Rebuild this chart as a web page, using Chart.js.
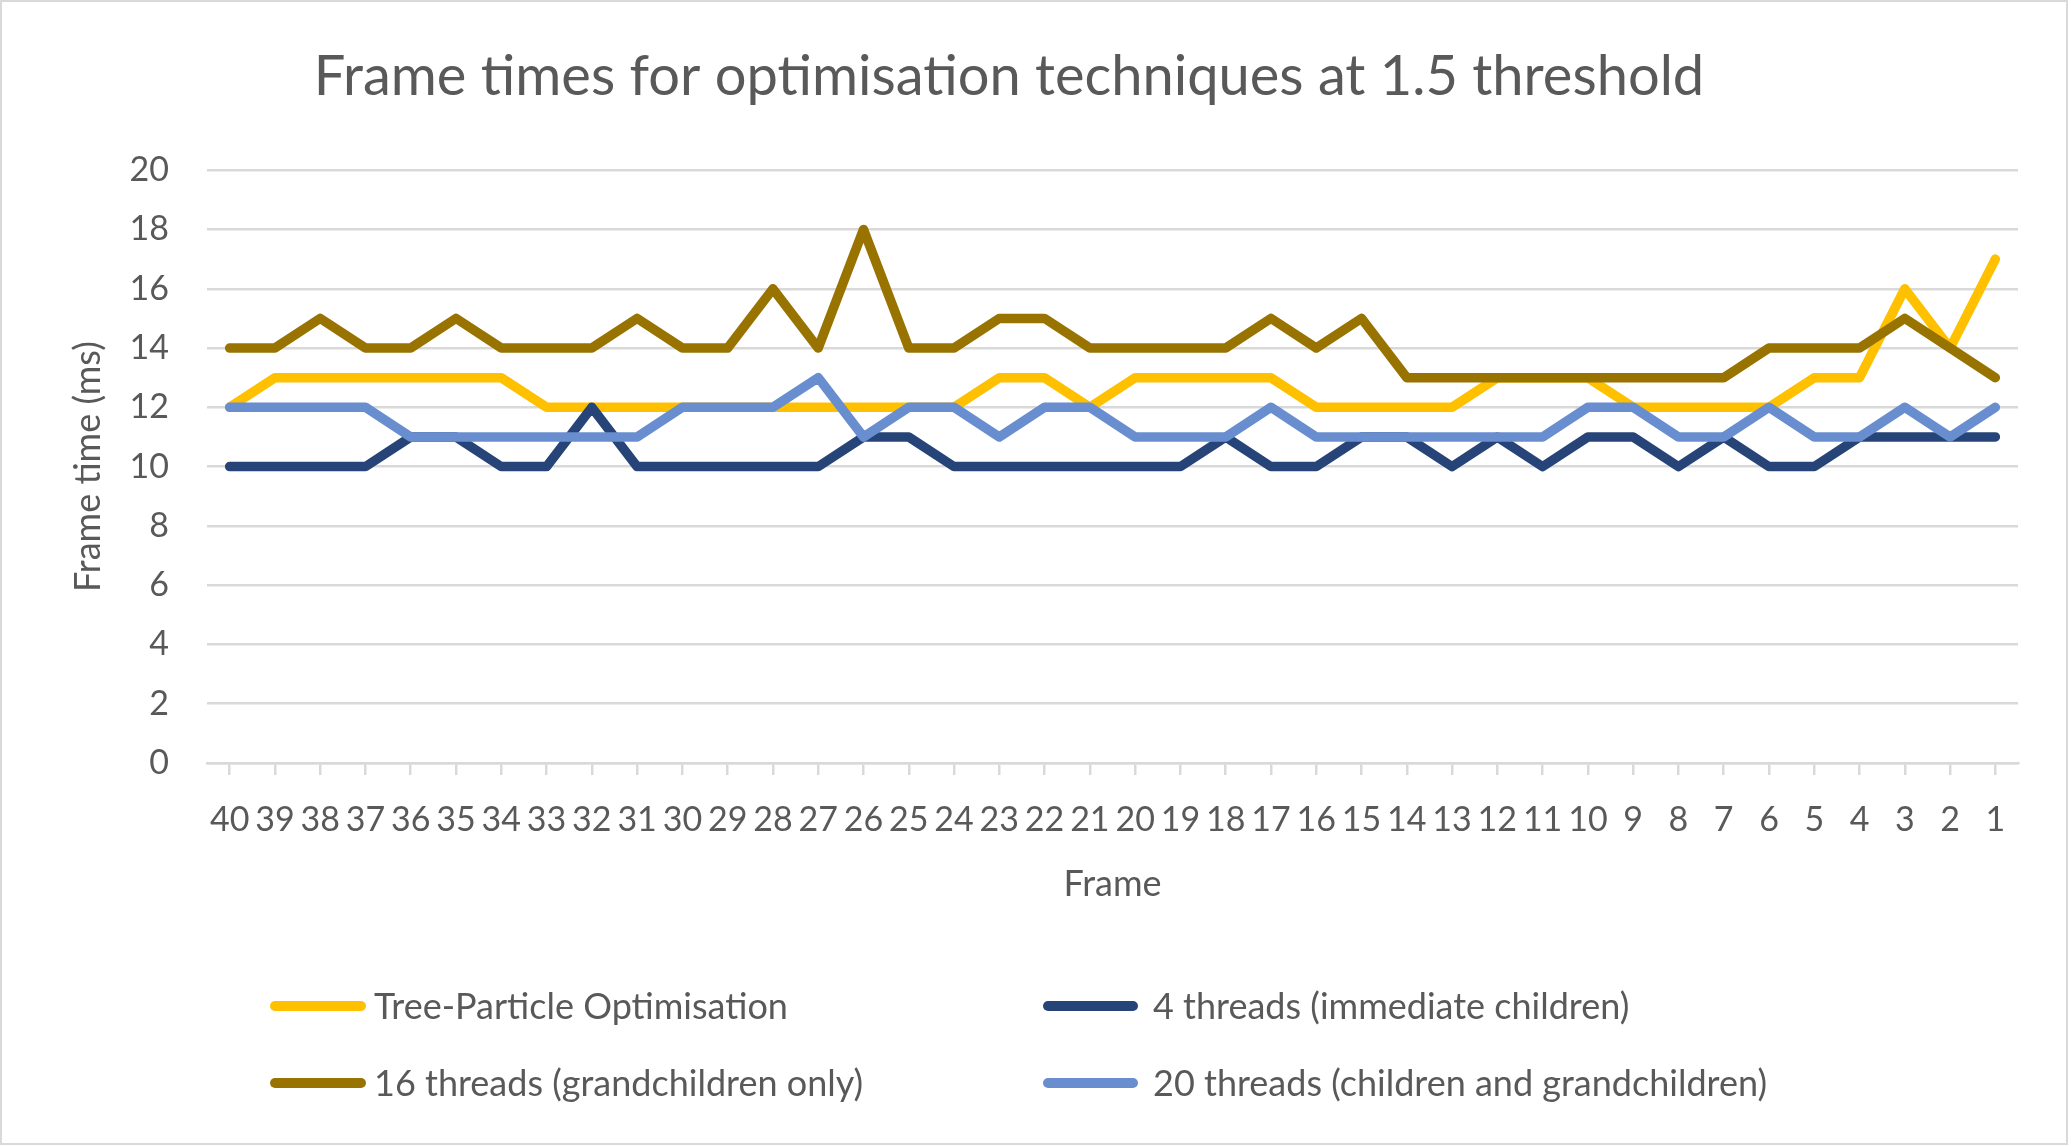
<!DOCTYPE html>
<html>
<head>
<meta charset="utf-8">
<script src="https://cdn.jsdelivr.net/npm/chart.js@4.4.0/dist/chart.umd.min.js"></script>
<style>
  html, body { margin: 0; padding: 0; background: #fff; }
  #chart { display: block; }
</style>
</head>
<body>
<canvas id="chart" width="2071" height="1146"></canvas>
<script>
// frames run backwards, 40 down to 1
const frames = ['40','39','38','37','36','35','34','33','32','31','30','29','28','27','26','25','24','23','22','21',
                '20','19','18','17','16','15','14','13','12','11','10','9','8','7','6','5','4','3','2','1'];

const treeParticle = [12,13,13,13,13,13,13,12,12,12,12, 12,12,12,12,12,12,13,13,12,13,13,
                      13,13,12,12,12,12,13,13,13,12,12, 12,12,13,13,16,14,17];
const threads4     = [10,10,10,10,11,11,10,10,12,10,10, 10,10,10,11,11,10,10,10,10,10,10,
                      11,10,10,11,11,10,11,10,11,11,10, 11,10,10,11,11,11,11];
const threads16    = [14,14,15,14,14,15,14,14,14,15,14, 14,16,14,18,14,14,15,15,14,14,14,
                      14,15,14,15,13,13,13,13,13,13,13, 13,14,14,14,15,14,13];
const threads20    = [12,12,12,12,11,11,11,11,11,11,12, 12,12,13,11,12,12,11,12,12,11,11,
                      11,12,11,11,11,11,11,11,12,12,11, 11,12,11,11,12,11,12];

const yTicks = [0, 2, 4, 6, 8, 10, 12, 14, 16, 18, 20];

const gridGrey = '#d9d9d9';
const textGrey = '#595959';

Chart.defaults.font.family = 'Lato';
Chart.defaults.color = textGrey;

// white background, outer frame and a two-column legend like Excel's
const frameAndLegend = {
  id: 'frameAndLegend',
  beforeDraw(chart) {
    const ctx = chart.ctx;
    ctx.save();
    ctx.fillStyle = '#fff';
    ctx.fillRect(0, 0, chart.width, chart.height);
    ctx.strokeStyle = gridGrey;
    ctx.lineWidth = 2;
    ctx.strokeRect(1, 1, chart.width - 5, chart.height - 3);
    ctx.restore();
  },
  afterDraw(chart) {
    const ctx = chart.ctx;
    const lineX = [[270, 366], [1043, 1138]];
    const textX = [374, 1153];
    const rowY = [1006, 1083];
    chart.data.datasets.forEach((ds, i) => {
      const col = i % 2, y = rowY[Math.floor(i / 2)];
      ctx.save();
      ctx.strokeStyle = ds.borderColor;
      ctx.lineWidth = 10;
      ctx.lineCap = 'round';
      ctx.beginPath();
      ctx.moveTo(lineX[col][0] + 5, y);
      ctx.lineTo(lineX[col][1] - 5, y);
      ctx.stroke();
      ctx.fillStyle = textGrey;
      ctx.font = '36px Lato';
      ctx.textBaseline = 'alphabetic';
      ctx.fillText(ds.label, textX[col], y + 13);
      ctx.restore();
    });
  }
};

const lineStyle = {
  borderWidth: 9.5,
  pointRadius: 0,
  pointHoverRadius: 0,
  tension: 0,
  borderCapStyle: 'round',
  borderJoinStyle: 'round',
  fill: false
};

new Chart(document.getElementById('chart'), {
  type: 'line',
  data: {
    labels: frames,
    datasets: [
      { ...lineStyle, label: 'Tree-Particle Optimisation', data: treeParticle, borderColor: '#FFC000', backgroundColor: '#FFC000', order: 3 },
      { ...lineStyle, label: '4 threads (immediate children)', data: threads4, borderColor: '#264478', backgroundColor: '#264478', order: 2 },
      { ...lineStyle, label: '16 threads (grandchildren only)', data: threads16, borderColor: '#997300', backgroundColor: '#997300', order: 1 },
      { ...lineStyle, label: '20 threads (children and grandchildren)', data: threads20, borderColor: '#698ED0', backgroundColor: '#698ED0', order: 0 }
    ]
  },
  options: {
    responsive: false,
    animation: false,
    layout: { padding: { top: 0, left: 0, right: 53, bottom: 226 } },
    plugins: {
      legend: { display: false },
      tooltip: { enabled: false },
      title: {
        display: true,
        text: 'Frame times for optimisation techniques at 1.5 threshold',
        color: textGrey,
        font: { size: 56, weight: 'normal' },
        padding: { top: 43, bottom: 60 }
      }
    },
    scales: {
      x: {
        offset: true,
        grid: { display: true, drawOnChartArea: false, drawTicks: true, tickLength: 12, color: gridGrey, lineWidth: 2.5 },
        border: { display: true, color: gridGrey, width: 2.5 },
        ticks: { autoSkip: false, maxRotation: 0, minRotation: 0, color: textGrey, font: { size: 34 }, padding: 25 },
        title: { display: true, text: 'Frame', color: textGrey, font: { size: 36 }, padding: { top: 0, bottom: 14 } },
        afterFit(scale) { scale.height = 157; }
      },
      y: {
        min: 0,
        max: 20,
        afterBuildTicks(scale) { scale.ticks = yTicks.map(v => ({ value: v })); },
        grid: { color: gridGrey, lineWidth: 2.5, drawTicks: false },
        border: { display: false },
        ticks: { color: textGrey, font: { size: 34 }, padding: 38 },
        title: { display: true, text: 'Frame time (ms)', color: textGrey, font: { size: 36 }, padding: { top: 67, bottom: 0 } },
        afterFit(scale) { scale.width = 207; }
      }
    }
  },
  plugins: [frameAndLegend]
});
</script>
</body>
</html>
